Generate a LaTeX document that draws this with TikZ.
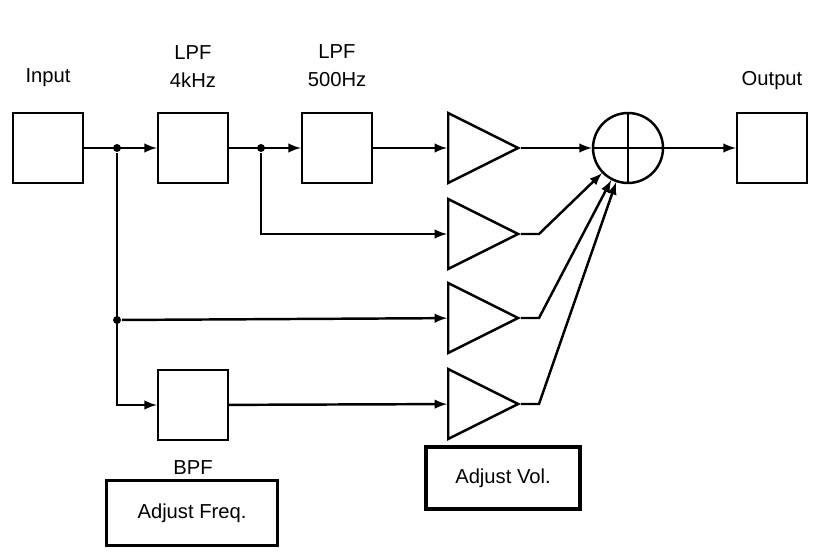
\documentclass[tikz,border=0pt]{standalone}
\usepackage{fontspec}
\setmainfont{Liberation Sans}
\usetikzlibrary{shapes.geometric,arrows,fit,calc,positioning}

\begin{document}
\begin{tikzpicture}[x=0.02cm,y=-0.02cm,line width=1.4pt,>=latex,
  blk/.style={draw,minimum width=1.4cm,minimum height=1.4cm,inner sep=0pt},
  amp/.style={draw,isosceles triangle,isosceles triangle apex angle=53,minimum height=1.4cm,inner sep=0pt,anchor=west},
  lbl/.style={font=\fontsize{11.5}{16}\selectfont,align=center},
  note/.style={draw,line width=2.2pt,lbl,inner sep=0pt},
  dot/.style={circle,fill,inner sep=1.6pt}]

\fill[white] (0,0) rectangle (820,560);

\node[blk] (in) at (48,148) {};
\node[blk] (lpfa) at (193,148) {};
\node[blk] (lpfb) at (337,148) {};
\node[blk] (out) at (772,148) {};
\node[blk] (bpf) at (193,405) {};

\foreach \nn/\yy in {a/148,b/234,c/318,d/404}{
\node[amp] (amp\nn) at (447,\yy) {};
}

\node[draw,circle,minimum size=1.4cm,inner sep=0pt] (sum) at (628,148) {};
\draw (sum.north) -- (sum.south) (sum.west) -- (sum.east);

\node[lbl,above=0.35cm of in] {Input};
\node[lbl,above=0.35cm of lpfa] {LPF\\4kHz};
\node[lbl,above=0.35cm of lpfb] {LPF\\500Hz};
\node[lbl,above=0.3cm of out] {Output};
\node[lbl,below=0.25cm of bpf] {BPF};
\node[note,minimum width=3.42cm,minimum height=1.3cm] (freq) at (192,513) {Adjust Freq.};
\node[note,minimum width=3.08cm,minimum height=1.24cm] (vol) at (503,478) {Adjust Vol.};

\node[dot] (j1) at (117,148) {};
\node[dot] (j2) at (261,148) {};
\node[dot] (j3) at (117,320) {};

\draw[->] (in) -- (lpfa);
\draw[->] (lpfa) -- (lpfb);
\draw[->] (lpfb) -- (ampa);
\draw[->] (j2) |- (ampb);
\draw[->] (j3) -- (ampc);
\draw[->] (j1) |- (bpf);
\draw[->] (bpf) -- (ampd);
\draw[->] (ampa.apex) -- (sum);
\foreach \nn in {b,c,d}{
\draw[->] (amp\nn.apex) -- ++(18,0) -- (sum);
}
\draw[->] (sum) -- (out);

\end{tikzpicture}
\end{document}
